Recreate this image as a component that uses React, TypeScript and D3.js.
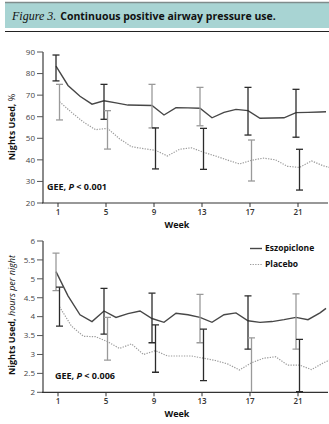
import React from "react";
import * as d3 from "d3";

// ---------- data ----------
const weeks = [1, 2, 3, 4, 5, 6, 7, 8, 9, 10, 11, 12, 13, 14, 15, 16, 17, 18, 19, 20, 21, 22, 23, 23.5];
const xTicks = [1, 5, 9, 13, 17, 21];

const pctEszopiclone = [83.5, 74.5, 69.5, 65.8, 67.4, 66.4, 65.4, 65.3, 65.2, 60.8, 64.2, 64.1, 63.9, 59.5, 62.0, 63.4, 62.8, 59.3, 59.4, 59.5, 61.9, 62.0, 62.2, 62.3];
const pctPlacebo = [67.0, 62.0, 57.5, 54.0, 54.6, 49.8, 46.1, 45.2, 44.4, 41.8, 44.9, 45.6, 43.5, 41.8, 39.9, 38.1, 39.8, 40.8, 40.0, 37.0, 36.5, 39.5, 37.2, 36.5];
const hrsEszopiclone = [5.19, 4.55, 4.05, 3.87, 4.15, 3.98, 4.08, 4.15, 3.95, 3.85, 4.09, 4.05, 3.98, 3.85, 4.05, 4.1, 3.89, 3.85, 3.87, 3.92, 3.98, 3.92, 4.1, 4.22];
const hrsPlacebo = [4.26, 3.75, 3.48, 3.47, 3.34, 3.16, 3.28, 3.0, 3.1, 2.96, 2.96, 2.96, 2.9, 2.84, 2.75, 2.59, 2.78, 2.9, 2.94, 2.72, 2.72, 2.6, 2.78, 2.85];

const barWeeks = [1, 5, 9, 13, 17, 21];
const pctEszLo = [76.6, 58.8, 54.8, 55.8, 51.5, 50.5];
const pctEszHi = [88.6, 75.0, 75.0, 73.6, 73.6, 72.7];
const pctPlaLo = [58.5, 45.0, 35.8, 35.6, 30.2, 26.0];
const pctPlaHi = [75.0, 62.8, 54.8, 54.6, 49.2, 44.9];
const hrsEszLo = [4.69, 3.54, 3.31, 3.31, 3.14, 3.14];
const hrsEszHi = [5.68, 4.75, 4.62, 4.59, 4.55, 4.6];
const hrsPlaLo = [3.75, 2.85, 2.53, 2.31, 1.9, 2.02];
const hrsPlaHi = [4.78, 3.98, 3.78, 3.67, 3.44, 3.4];

const pctTicks = [20, 30, 40, 50, 60, 70, 80, 90];
const hrsTicks = [2, 2.5, 3, 3.5, 4, 4.5, 5, 5.5, 6];
const seriesNames = ["Eszopiclone", "Placebo"];

// ---------- styles ----------
const DARK = "#2b2b2b";
const GRAY = "#9a9a9a";
const pctEszTone = [DARK, DARK, GRAY, GRAY, DARK, DARK];
const pctPlaTone = [GRAY, GRAY, DARK, DARK, GRAY, DARK];
const hrsEszTone = [GRAY, DARK, DARK, GRAY, DARK, GRAY];
const hrsPlaTone = [DARK, GRAY, DARK, DARK, GRAY, DARK];
const FONT = "'Open Sans', 'Noto Sans', sans-serif";

const x = d3.scaleLinear().domain([-0.25, 23.5]).range([43, 328]);
const ESZ_OFF = -2;
const PLA_OFF = 1.5;

type PanelProps = {
  y: d3.ScaleLinear<number, number>;
  yTicks: number[];
  yFmt: (v: number) => string;
  esz: number[];
  pla: number[];
  eszLo: number[];
  eszHi: number[];
  plaLo: number[];
  plaHi: number[];
  eszTone: string[];
  plaTone: string[];
  clipId: string;
};

function Panel(p: PanelProps) {
  const [y0, y1] = p.y.range();
  const line = (off: number) =>
    d3
      .line<number>()
      .x((_, i) => x(weeks[i]) + off)
      .y((d) => p.y(d))
      .curve(d3.curveLinear);
  const bars = (lo: number[], hi: number[], tone: string[], off: number) =>
    barWeeks.map((w, i) => {
      const cx = x(w) + off;
      const a = p.y(hi[i]);
      const b = p.y(lo[i]);
      return (
        <g key={`${off}-${i}`} stroke={tone[i]} strokeWidth={1.3}>
          <line x1={cx} x2={cx} y1={a} y2={b} />
          <line x1={cx - 3.5} x2={cx + 3.5} y1={a} y2={a} />
          <line x1={cx - 3.5} x2={cx + 3.5} y1={b} y2={b} />
        </g>
      );
    });
  return (
    <g>
      <defs>
        <clipPath id={p.clipId}>
          <rect x={43} y={y1 - 10} width={290} height={y0 - y1 + 10} />
        </clipPath>
      </defs>
      {/* y axis */}
      <line x1={43} x2={43} y1={y1} y2={y0} stroke="#8a8a8a" strokeWidth={2} />
      {p.yTicks.map((t) => (
        <g key={t}>
          <line x1={37} x2={43} y1={p.y(t)} y2={p.y(t)} stroke="#555" strokeWidth={1} />
          <text x={35} y={p.y(t)} dy="0.35em" textAnchor="end" fontSize={8} fill="#444" fontFamily={FONT}>
            {p.yFmt(t)}
          </text>
        </g>
      ))}
      {/* x axis */}
      <line x1={42} x2={328} y1={y0} y2={y0} stroke="#333" strokeWidth={1.2} />
      {xTicks.map((t) => (
        <g key={t}>
          <line x1={x(t)} x2={x(t)} y1={y0} y2={y0 + 4} stroke="#333" strokeWidth={1} />
          <text x={x(t)} y={y0 + 12} textAnchor="middle" fontSize={8} fill="#333" fontFamily={FONT} fontWeight={600}>
            {t}
          </text>
        </g>
      ))}
      <g clipPath={`url(#${p.clipId})`}>
        <path d={line(PLA_OFF)(p.pla) || ""} fill="none" stroke="#9c9c9c" strokeWidth={1.2} strokeDasharray="1.3 1.3" />
        <path d={line(ESZ_OFF)(p.esz) || ""} fill="none" stroke="#474747" strokeWidth={1.4} />
        {bars(p.eszLo, p.eszHi, p.eszTone, ESZ_OFF)}
        {bars(p.plaLo, p.plaHi, p.plaTone, PLA_OFF)}
      </g>
    </g>
  );
}

export default function App() {
  const yPct = d3.scaleLinear().domain([20, 90]).range([203, 52]);
  const yHrs = d3.scaleLinear().domain([2, 6]).range([392.3, 241]);
  return (
    <svg width={329} height={424} style={{ position: "absolute", left: 0, top: 0, background: "#fff" }}>
      {/* title band */}
      <rect x={5} y={2} width={324} height={26} fill="#a8d4d3" />
      <line x1={5} x2={329} y1={2.5} y2={2.5} stroke="#7f8c8c" strokeWidth={1.5} />
      <line x1={5} x2={329} y1={31.5} y2={31.5} stroke="#222" strokeWidth={1} />
      <text x={12} y={20} fontSize={10.5} fill="#111">
        <tspan fontFamily="'Liberation Serif', serif" fontStyle="italic" fontSize={12}>Figure 3.</tspan>
        <tspan fontFamily={FONT} fontWeight={700} dx={4}>Continuous positive airway pressure use.</tspan>
      </text>

      <Panel
        y={yPct}
        yTicks={pctTicks}
        yFmt={(v) => String(v)}
        esz={pctEszopiclone}
        pla={pctPlacebo}
        eszLo={pctEszLo}
        eszHi={pctEszHi}
        plaLo={pctPlaLo}
        plaHi={pctPlaHi}
        eszTone={pctEszTone}
        plaTone={pctPlaTone}
        clipId="clipTop"
      />
      <Panel
        y={yHrs}
        yTicks={hrsTicks}
        yFmt={(v) => String(v)}
        esz={hrsEszopiclone}
        pla={hrsPlacebo}
        eszLo={hrsEszLo}
        eszHi={hrsEszHi}
        plaLo={hrsPlaLo}
        plaHi={hrsPlaHi}
        eszTone={hrsEszTone}
        plaTone={hrsPlaTone}
        clipId="clipBot"
      />

      {/* axis titles */}
      <text transform="translate(15,127) rotate(-90)" textAnchor="middle" fontSize={9} fontFamily={FONT} fill="#111">
        <tspan fontWeight={700}>Nights Used, </tspan>
        <tspan>%</tspan>
      </text>
      <text transform="translate(15,315) rotate(-90)" textAnchor="middle" fontSize={9} fontFamily={FONT} fill="#111">
        <tspan fontWeight={700}>Nights Used, </tspan>
        <tspan fontStyle="italic">hours per night</tspan>
      </text>
      <text x={177} y={228} textAnchor="middle" fontSize={9} fontWeight={700} fontFamily={FONT} fill="#111">Week</text>
      <text x={177} y={417} textAnchor="middle" fontSize={9} fontWeight={700} fontFamily={FONT} fill="#111">Week</text>

      <text x={47} y={190} fontSize={9} fontWeight={700} fontFamily={FONT} fill="#111">
        GEE, <tspan fontStyle="italic">P</tspan> &lt; 0.001
      </text>
      <text x={55} y={379} fontSize={9} fontWeight={700} fontFamily={FONT} fill="#111">
        GEE, <tspan fontStyle="italic">P</tspan> &lt; 0.006
      </text>

      {/* legend */}
      <line x1={250} x2={262} y1={248.5} y2={248.5} stroke="#474747" strokeWidth={1.4} />
      <text x={265} y={248.5} dy="0.35em" fontSize={8.5} fontWeight={700} fontFamily={FONT} fill="#111">{seriesNames[0]}</text>
      <line x1={250} x2={262} y1={264.5} y2={264.5} stroke="#9c9c9c" strokeWidth={1.2} strokeDasharray="1.3 1.3" />
      <text x={265} y={264.5} dy="0.35em" fontSize={8.5} fontWeight={700} fontFamily={FONT} fill="#111">{seriesNames[1]}</text>
    </svg>
  );
}
